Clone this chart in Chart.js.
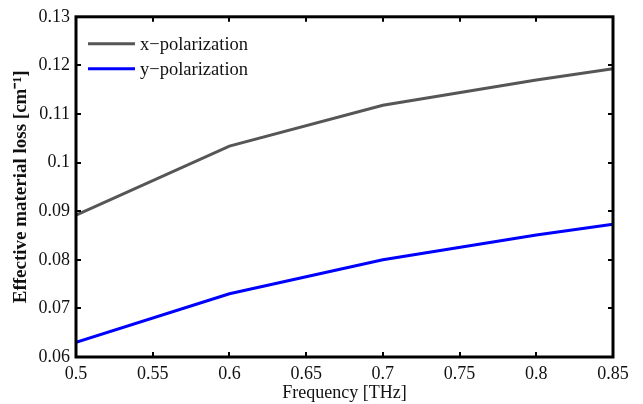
<!DOCTYPE html>
<html lang="en">
<head>
<meta charset="UTF-8">
<title>Effective material loss</title>
<script src="https://cdn.jsdelivr.net/npm/chart.js"></script>
<style>
body { margin: 0; background: #fff; }
canvas { display: block; }
</style>
</head>
<body>
<canvas id="lossChart" width="643" height="404"></canvas>
<script>
const frequencies = [0.5, 0.6, 0.7, 0.8, 0.85];
const xPolLoss = [0.0892, 0.1034, 0.1118, 0.1170, 0.1193];
const yPolLoss = [0.0630, 0.0730, 0.0800, 0.0851, 0.0873];
const seriesNames = ['x\u2212polarization', 'y\u2212polarization'];
const seriesColors = ['#565656', '#0000ff'];

const FONT = "'Liberation Serif', 'Times New Roman', serif";

function toPoints(values) {
    return frequencies.map((f, i) => ({ x: f, y: values[i] }));
}

function fmt(v) {
    return Number(v.toFixed(2)).toString();
}

// box round the plot with inward ticks on all four sides
const framePlugin = {
    id: 'frame',
    afterDraw(chart) {
        const { ctx, chartArea: a, scales } = chart;
        ctx.save();
        ctx.strokeStyle = '#000';
        ctx.lineWidth = 2;
        const len = 5;
        scales.x.ticks.forEach(t => {
            const px = Math.round(scales.x.getPixelForValue(t.value));
            ctx.beginPath();
            ctx.moveTo(px, a.bottom); ctx.lineTo(px, a.bottom - len);
            ctx.moveTo(px, a.top); ctx.lineTo(px, a.top + len);
            ctx.stroke();
        });
        scales.y.ticks.forEach(t => {
            const py = Math.round(scales.y.getPixelForValue(t.value));
            ctx.beginPath();
            ctx.moveTo(a.left, py); ctx.lineTo(a.left + len, py);
            ctx.moveTo(a.right, py); ctx.lineTo(a.right - len, py);
            ctx.stroke();
        });
        ctx.lineWidth = 3;
        ctx.strokeRect(a.left, a.top, a.right - a.left, a.bottom - a.top);
        ctx.restore();
    }
};

// legend inside the top-left corner, no box
const insideLegend = {
    id: 'insideLegend',
    afterDatasetsDraw(chart) {
        const { ctx, chartArea: a } = chart;
        ctx.save();
        ctx.font = '18.5px ' + FONT;
        ctx.textBaseline = 'middle';
        chart.data.datasets.forEach((ds, i) => {
            const y = a.top + 27 + i * 25;
            ctx.strokeStyle = ds.borderColor;
            ctx.lineWidth = 3;
            ctx.beginPath();
            ctx.moveTo(a.left + 12, y);
            ctx.lineTo(a.left + 59, y);
            ctx.stroke();
            ctx.fillStyle = '#111';
            ctx.fillText(ds.label, a.left + 64, y + 1);
        });
        ctx.restore();
    }
};

new Chart(document.getElementById('lossChart'), {
    type: 'line',
    data: {
        datasets: [
            { label: seriesNames[0], data: toPoints(xPolLoss), borderColor: seriesColors[0] },
            { label: seriesNames[1], data: toPoints(yPolLoss), borderColor: seriesColors[1] }
        ]
    },
    options: {
        responsive: false,
        animation: false,
        layout: { padding: { top: 16, right: 30, left: 0, bottom: 0 } },
        elements: {
            line: { borderWidth: 3, tension: 0, fill: false },
            point: { radius: 0 }
        },
        plugins: { legend: { display: false }, tooltip: { enabled: false } },
        scales: {
            x: {
                type: 'linear',
                min: 0.5,
                max: 0.85,
                grid: { display: false, drawTicks: false },
                border: { display: false },
                ticks: {
                    stepSize: 0.05,
                    padding: 6,
                    color: '#111',
                    font: { family: FONT, size: 18 },
                    callback: v => fmt(v)
                },
                title: {
                    display: true,
                    text: 'Frequency [THz]',
                    color: '#111',
                    padding: 0,
                    font: { family: FONT, size: 18 }
                },
                afterFit(s) { s.height = 47; }
            },
            y: {
                min: 0.06,
                max: 0.13,
                grid: { display: false, drawTicks: false },
                border: { display: false },
                ticks: {
                    stepSize: 0.01,
                    padding: 6,
                    color: '#111',
                    font: { family: FONT, size: 18 },
                    callback: v => fmt(v)
                },
                title: {
                    display: true,
                    text: 'Effective material loss [cm\u207B\u00B9]',
                    color: '#111',
                    padding: { top: 10, bottom: 0 },
                    font: { family: FONT, size: 19, weight: 'bold' }
                },
                afterFit(s) { s.width = 76; }
            }
        }
    },
    plugins: [framePlugin, insideLegend]
});
</script>
</body>
</html>
